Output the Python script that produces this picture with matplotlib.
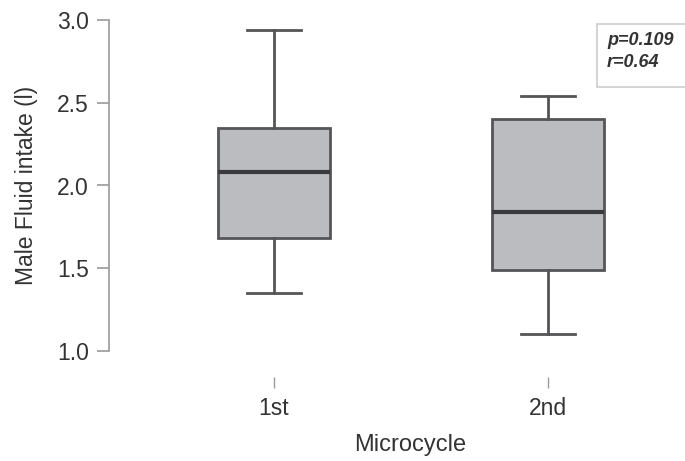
import matplotlib
matplotlib.use("Agg")
import matplotlib.pyplot as plt
from matplotlib.patches import Rectangle

# five-number summaries per microcycle (litres)
groups = ["1st", "2nd"]
whisker_low = [1.35, 1.10]
q1 = [1.68, 1.49]
median = [2.08, 1.84]
q3 = [2.35, 2.40]
whisker_high = [2.94, 2.54]
p_value = 0.109
r_value = 0.64

plt.rcParams["font.family"] = ["Liberation Sans", "DejaVu Sans"]

W, H = 685, 461
fig = plt.figure(figsize=(W / 100, H / 100), dpi=100)
# axes spans y=3.0 (top) .. 1.0 (bottom) exactly
ax_l, ax_t, ax_b = 109, 20, 351
ax_w, ax_h = W - ax_l, ax_b - ax_t
ax = fig.add_axes([ax_l / W, 1 - ax_b / H, ax_w / W, ax_h / H])

stats = [dict(label=g, whislo=lo, q1=a, med=m, q3=b, whishi=hi, fliers=[])
         for g, lo, a, m, b, hi in zip(groups, whisker_low, q1, median, q3, whisker_high)]

edge = "#555558"
ax.bxp(stats, positions=[1, 2], widths=0.41, capwidths=0.2, patch_artist=True,
       showfliers=False,
       boxprops=dict(facecolor="#bbbcc0", edgecolor=edge, linewidth=2.0),
       whiskerprops=dict(color=edge, linewidth=2.0),
       capprops=dict(color=edge, linewidth=2.0),
       medianprops=dict(color="#3a3a3c", linewidth=3.0))

ax.set_xlim(1 - 165 / 274, 2 + 137 / 274)
ax.set_ylim(1.0, 3.0)
ax.set_yticks([1.0, 1.5, 2.0, 2.5, 3.0])
ax.set_yticklabels(["1.0", "1.5", "2.0", "2.5", "3.0"])
ax.set_xticks([1, 2])
ax.set_xticklabels(groups)

for s in ["top", "right", "bottom"]:
    ax.spines[s].set_visible(False)
ax.spines["left"].set_color("#9a9a9a")
ax.spines["left"].set_linewidth(1.2)
ax.spines["bottom"].set_position(("outward", 19))

ax.tick_params(axis="y", length=8.5, width=1.2, color="#9a9a9a",
               labelsize=16.5, labelcolor="#333333", pad=6)
ax.tick_params(axis="x", length=8, width=1.0, color="#9a9a9a",
               labelsize=16.5, labelcolor="#333333", pad=6)

ax.set_ylabel("Male Fluid intake (l)", fontsize=16.5, color="#333333")
ax.set_xlabel("Microcycle", fontsize=17, color="#333333")
ax.yaxis.set_label_coords(-(ax_l - 38) / ax_w, 0.5)
ax.xaxis.set_label_coords((410 - ax_l) / ax_w, -(434 - ax_b) / ax_h)

# stats box in the top-right corner, running off the right edge
fig.patches.append(Rectangle((597 / W, 1 - 87 / H), 100 / W, 63 / H,
                             transform=fig.transFigure, facecolor="white",
                             edgecolor="#cccccc", linewidth=1.2))
fig.text(607 / W, 1 - 32 / H, f"p={p_value:.3f}\nr={r_value:.2f}",
         ha="left", va="top", fontsize=13, fontweight="bold", fontstyle="italic",
         color="#333333", linespacing=1.35)

fig.savefig("out.png", dpi=100)
